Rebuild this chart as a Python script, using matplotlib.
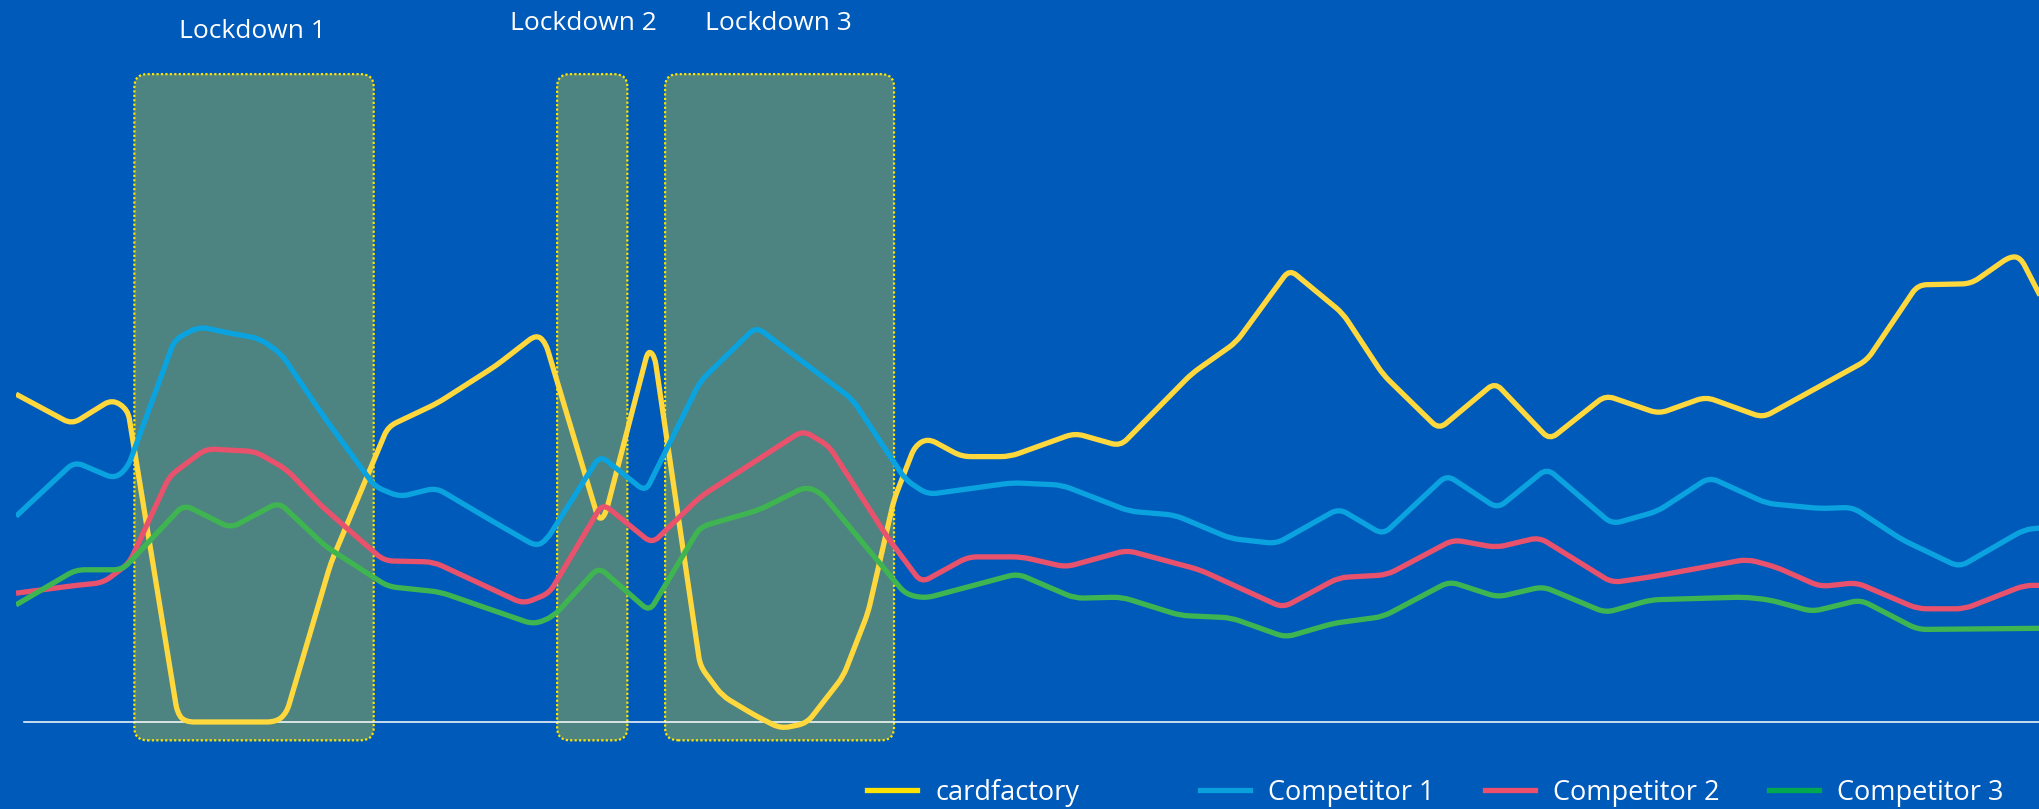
"""Weekly trading index vs competitors, with lockdown periods highlighted."""
import numpy as np
import matplotlib
matplotlib.use("Agg")
import matplotlib.pyplot as plt
from matplotlib.path import Path
from matplotlib.patches import PathPatch, FancyBboxPatch
from matplotlib.lines import Line2D

plt.rcParams["font.family"] = ["Open Sans", "DejaVu Sans"]

# --- data (x = days since start, y = trading index) ---
cardfactory_x = [0, 10.75, 18.5, 21.5, 31, 32.5, 50, 52, 60.5, 71.5, 81, 92.25, 100, 101.75,
                 112, 113.25, 121.5, 122.75, 131.5, 135.75, 142, 147, 152, 159, 163.75, 168.75,
                 172.75, 175.25, 181.75, 191, 203.5, 212.25, 226, 234.5, 244.75, 255, 262.75,
                 273.5, 284.25, 294.75, 305.5, 315.75, 324.75, 335.75, 355.75, 365.5, 375.75,
                 383.25, 385.25, 389]
cardfactory_y = [84, 76.3, 82.7, 80, 2.3, 0, 0, 2.3, 40.7, 75.7, 81.7, 91.3, 99.3, 97.3,
                 51.7, 53, 95.3, 93.7, 14.3, 6.7, 1.7, -1.7, -0.3, 11.7, 28, 57,
                 70.7, 72.7, 68, 68, 74, 70.7, 89.3, 97.3, 116, 104.7, 89,
                 75, 87, 72.3, 83.7, 79, 83.3, 78, 92.7, 112, 112.3,
                 119.3, 119, 109.3]

comp1_x = [0, 11.25, 19, 21.5, 30.5, 35.25, 40.75, 46.75, 51, 58.75, 69, 73.75, 80.75, 91.25,
           100, 102, 112.25, 121, 131.5, 142.25, 160.75, 171, 175.25, 191.5, 201, 214, 222.75,
           233.5, 242.25, 254.25, 262.75, 275, 284.75, 294.25, 306.75, 315.5, 325.5, 336.5,
           346.75, 353, 362.5, 373.5, 386, 389]
comp1_y = [52.7, 66.7, 62.3, 65.3, 98, 101.3, 99.7, 98.3, 94.3, 79, 60.3, 57.7, 60, 51.7,
           45, 46.7, 68.3, 59, 87.3, 101.3, 82.7, 62, 58.3, 61.3, 60.7, 54, 53,
           47, 45.7, 54.7, 48, 63.3, 54.7, 65, 50.7, 54, 62.7, 56,
           54.7, 55, 46.7, 39.7, 49.3, 49.7]

comp2_x = [0, 11.5, 16.75, 21.75, 29.5, 36.5, 46, 52, 58.75, 70.75, 80.25, 97.5, 102.5, 112.75,
           122.25, 131.5, 151.25, 156.25, 167.5, 174, 183, 193.25, 201.75, 213.5, 227.5, 243.5,
           254.25, 263.5, 276.25, 284.5, 292.75, 306.75, 314.75, 332.75, 338.25, 346.75,
           353.75, 365.5, 374.5, 386, 389]
comp2_y = [33, 35, 35.7, 40.7, 63, 70, 69.3, 64.7, 55.3, 41.3, 41, 30.3, 33, 56,
           45.7, 57.7, 74.7, 70.7, 47.3, 35.7, 42.3, 42.3, 39.7, 44, 39, 29.3,
           37, 37.7, 46.7, 44.7, 47.3, 35.7, 37.3, 41.7, 39.7, 34.7,
           35.7, 29, 29, 35, 35]

comp3_x = [0, 11.5, 20.5, 23.5, 32.25, 41.25, 50.5, 59.5, 71.5, 81.5, 99.5, 103.25, 112, 121.75,
           131.5, 142.75, 151.75, 154.75, 171, 174.75, 192.5, 203.5, 212.5, 223.75, 233.5, 244,
           253.25, 262.75, 275.5, 284.75, 293.5, 305.5, 314.25, 332, 337, 345.25, 354.5,
           365.5, 389]
comp3_y = [30, 39, 39, 43.3, 55.7, 49.7, 56.3, 45, 34.7, 33.3, 25, 27, 39.7, 28.3,
           50, 54.3, 60.3, 58.7, 32.7, 31.7, 38, 31.7, 32, 27.3, 26.7, 21.7,
           25.3, 27, 36, 32, 34.7, 28, 31.3, 32, 31.3, 28.3, 31.3,
           23.7, 24]

lockdown_names = ["Lockdown 1", "Lockdown 2", "Lockdown 3"]
lockdown_start = [22.75, 104, 124.75]
lockdown_end = [68.75, 117.5, 168.75]

series = [
    ("cardfactory", cardfactory_x, cardfactory_y, "#FFD83D"),
    ("Competitor 1", comp1_x, comp1_y, "#0AA3DF"),
    ("Competitor 2", comp2_x, comp2_y, "#E9526C"),
    ("Competitor 3", comp3_x, comp3_y, "#3FB552"),
]
legend_colors = ["#FFE300", "#0AA0DE", "#EE4F6C", "#00A84F"]

BG = "#005ABA"


def rounded_path(ax, xs, ys, r=9):
    """Polyline with quadratic-rounded corners (radius r in pixels)."""
    pts = ax.transData.transform(np.column_stack([xs, ys]))
    verts = [pts[0]]
    codes = [Path.MOVETO]
    for i in range(1, len(pts) - 1):
        p0, p1, p2 = pts[i - 1], pts[i], pts[i + 1]
        d1 = np.hypot(*(p1 - p0))
        d2 = np.hypot(*(p2 - p1))
        a = p1 + (p0 - p1) * min(r, d1 / 2) / d1
        b = p1 + (p2 - p1) * min(r, d2 / 2) / d2
        verts += [a, p1, b]
        codes += [Path.LINETO, Path.CURVE3, Path.CURVE3]
    verts.append(pts[-1])
    codes.append(Path.LINETO)
    return Path(ax.transData.inverted().transform(np.array(verts)), codes)


fig = plt.figure(figsize=(20.4, 8.09), dpi=100)
fig.patch.set_facecolor(BG)
ax = fig.add_axes([16 / 2040, 0, 2024 / 2040, 1])
ax.set_facecolor(BG)
ax.set_xlim(0, 389)
ax.set_ylim(-22.3, 185)
ax.axis("off")

# lockdown boxes
for name, s, e in zip(lockdown_names, lockdown_start, lockdown_end):
    box = FancyBboxPatch((s, -4.7), e - s, 170.7,
                         boxstyle="round,pad=0,rounding_size=2.5", mutation_aspect=1.3,
                         facecolor="#4D8380", edgecolor="#FFE500", linewidth=1.6,
                         linestyle=(0, (1, 1)), zorder=1)
    ax.add_patch(box)

label_x = [45.5, 109, 146.5]
label_y = [177, 179, 179]
for name, lx, ly in zip(lockdown_names, label_x, label_y):
    ax.text(lx, ly, name, ha="center", va="center", color="white", fontsize=19)

ax.axhline(0, xmin=0.004, xmax=1, color="white", linewidth=1.1, zorder=2)

for label, xs, ys, c in series:
    ax.add_patch(PathPatch(rounded_path(ax, xs, ys), fill=False, edgecolor=c,
                           linewidth=3.8, joinstyle="round", capstyle="butt", zorder=3))

# one legend per entry so each sits where the reference puts it
legend_left = [0.425, 0.588, 0.728, 0.867]
for (label, _, _, _), c, lx in zip(series, legend_colors, legend_left):
    h = Line2D([], [], color=c, linewidth=3.8)
    fig.legend([h], [label], loc="center left", bbox_to_anchor=(lx, 0.02),
               frameon=False, fontsize=19.5, handlelength=1.85, handletextpad=0.67,
               borderpad=0, borderaxespad=0, labelcolor="white")

fig.savefig("out.png", dpi=100, facecolor=BG)
